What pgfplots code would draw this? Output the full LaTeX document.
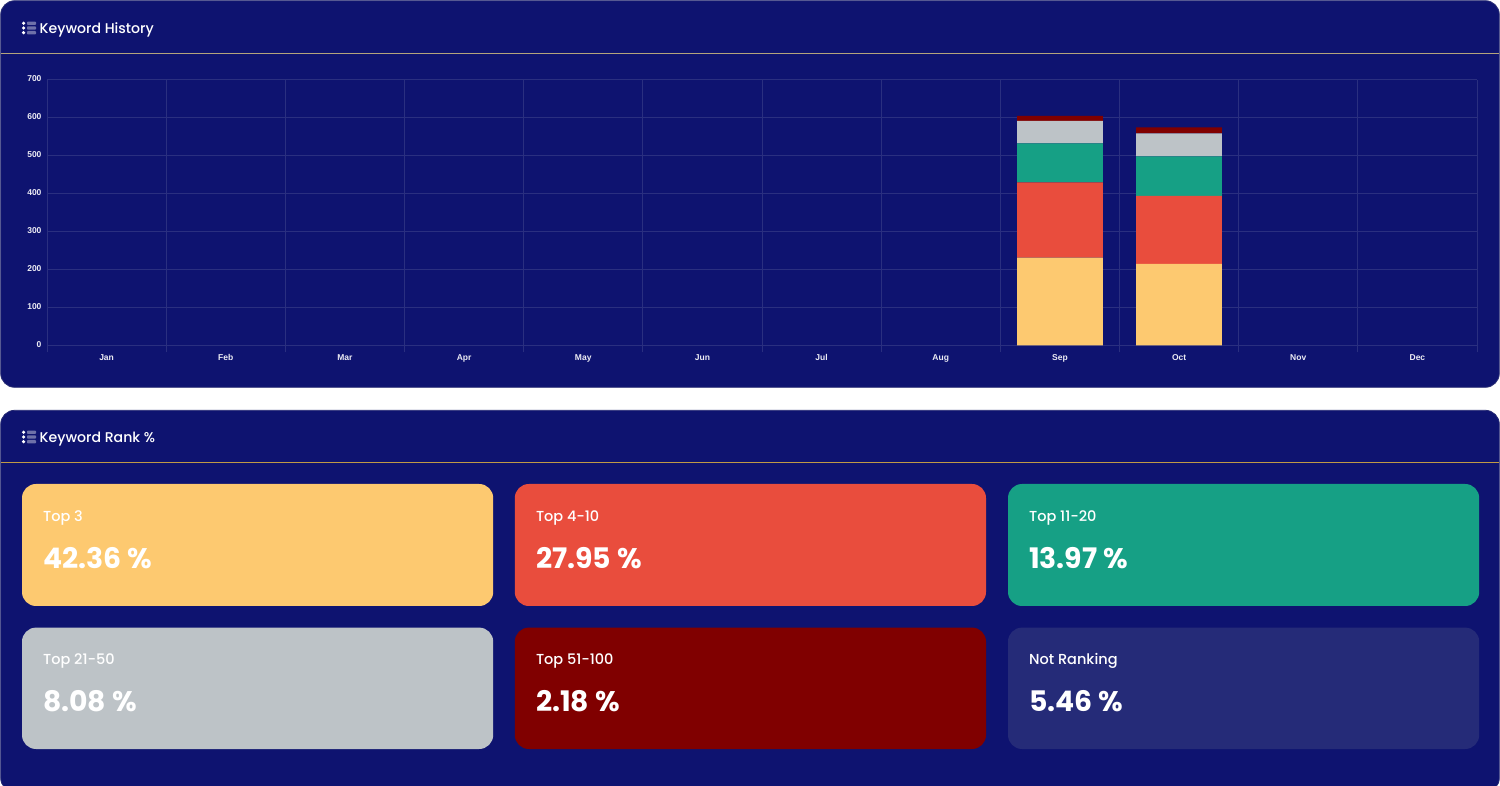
\documentclass[border=0pt]{standalone}
\usepackage{pgfplots}
\pgfplotsset{compat=1.18}
\usepackage{fontspec}
\setmainfont{Liberation Sans}
\newfontfamily\popm{Poppins Medium}
\newfontfamily\popb{Poppins}[UprightFont=*-Bold]
\definecolor{navy}{HTML}{0E1370}
\definecolor{cyellow}{HTML}{FDC970}
\definecolor{cred}{HTML}{E94D3D}
\definecolor{cgreen}{HTML}{16A085}
\definecolor{cgrey}{HTML}{BDC3C7}
\definecolor{cdark}{HTML}{800000}
\definecolor{cnone}{HTML}{252B78}
\definecolor{gridc}{HTML}{2A2F80}
\definecolor{headA}{HTML}{B4A47C}
\definecolor{headB}{HTML}{C09A45}
\pgfplotstableread{
x y1 y2 y3 y4 y5
0 0 0 0 0 0
1 0 0 0 0 0
2 0 0 0 0 0
3 0 0 0 0 0
4 0 0 0 0 0
5 0 0 0 0 0
6 0 0 0 0 0
7 0 0 0 0 0
8 231 198.5 102.5 59 13
9 215 179 104 60 16
10 0 0 0 0 0
11 0 0 0 0 0
}\history
\newcommand{\card}[7]{%
  \fill[#5,rounded corners=14pt] (#1,#2) rectangle ++(471.2,#6);
  \node[anchor=base west,inner sep=0,text=white,font=\popm\fontsize{14.5}{16}\selectfont] at (#1+21,#2+#7) {#3};
  \node[anchor=base west,inner sep=0,text=white,font=\popb\fontsize{28.3}{30}\selectfont] at (#1+21,#2+#7+47.2) {#4};
}
\newcommand{\hicon}[1]{%
  \foreach \yy in {-4.7,0,4.7}{
    \fill[white] (23.6,#1+\yy) circle (1.8);
    \fill[white!40!navy,rounded corners=0.8pt] (27,#1+\yy-1.7) rectangle (36,#1+\yy+1.7);
  }
}
\begin{document}
\begin{tikzpicture}
\clip (0,0) rectangle (1500pt,785pt);
\fill[white] (0,0) rectangle (1500pt,785pt);
\begin{scope}[x=1pt,y=-1pt,yshift=785pt]
% panels
\draw[fill=navy,draw=navy!75!gray,line width=0.8pt,rounded corners=14pt] (0.7,0.7) rectangle (1499.3,387.3);
\draw[fill=navy,draw=navy!80!gray,line width=0.8pt,rounded corners=14pt] (0.7,410.3) rectangle (1499.3,792);
\draw[color=headA,line width=1pt] (1,53.5) -- (1499,53.5);
\draw[color=headB,line width=1pt] (1,462.5) -- (1499,462.5);
\hicon{28}
\hicon{437}
\node[anchor=base west,inner sep=0,text=white,font=\popm\fontsize{14.1}{16}\selectfont] at (39.5,34) {Keyword History};
\node[anchor=base west,inner sep=0,text=white,font=\popm\fontsize{14.1}{16}\selectfont] at (39.5,443) {Keyword Rank \%};
% cards
\card{22}{484}{Top 3}{42.36 \%}{cyellow}{122}{37.5}
\card{514.8}{484}{Top 4-10}{27.95 \%}{cred}{122}{37.5}
\card{1008}{484}{Top 11-20}{13.97 \%}{cgreen}{122}{37.5}
\card{22}{627.6}{Top 21-50}{8.08 \%}{cgrey}{121.4}{37}
\card{514.8}{627.6}{Top 51-100}{2.18 \%}{cdark}{121.4}{37}
\card{1008}{627.6}{Not Ranking}{5.46 \%}{cnone}{121.4}{37}
\end{scope}
\begin{axis}[
  at={(47pt,439.5pt)},anchor=south west,
  scale only axis,width=1430pt,height=266pt,
  xmin=-0.5,xmax=11.5,ymin=0,ymax=700,
  ybar stacked,bar width=0.72,
  bar shift=0pt,
  axis line style={draw=none},
  ytick={0,100,...,700},
  xtick={0,...,11},
  xticklabels={Jan,Feb,Mar,Apr,May,Jun,Jul,Aug,Sep,Oct,Nov,Dec},
  minor xtick={-0.5,0.5,...,11.5},
  major tick length=0pt,
  minor tick length=7pt,
  tick align=outside,
  xtick pos=bottom,ytick pos=left,
  minor tick style={draw=gridc,line width=0.8pt},
  xmajorgrids=false,ymajorgrids=true,xminorgrids=true,
  grid style={draw=gridc,line width=0.8pt},
  tick label style={text=white!92!navy,font=\bfseries\fontsize{8.5}{10}\selectfont,/pgf/number format/assume math mode=true},
  yticklabel style={xshift=-2pt,yshift=0.5pt},
  xticklabel style={yshift=-5pt,text height=6.5pt,text depth=2pt},
  every axis plot/.append style={draw=none},
]
\addplot[fill=cyellow] table[x=x,y=y1] {\history};
\addplot[fill=cred] table[x=x,y=y2] {\history};
\addplot[fill=cgreen] table[x=x,y=y3] {\history};
\addplot[fill=cgrey] table[x=x,y=y4] {\history};
\addplot[fill=cdark] table[x=x,y=y5] {\history};
\end{axis}
\end{tikzpicture}
\end{document}
